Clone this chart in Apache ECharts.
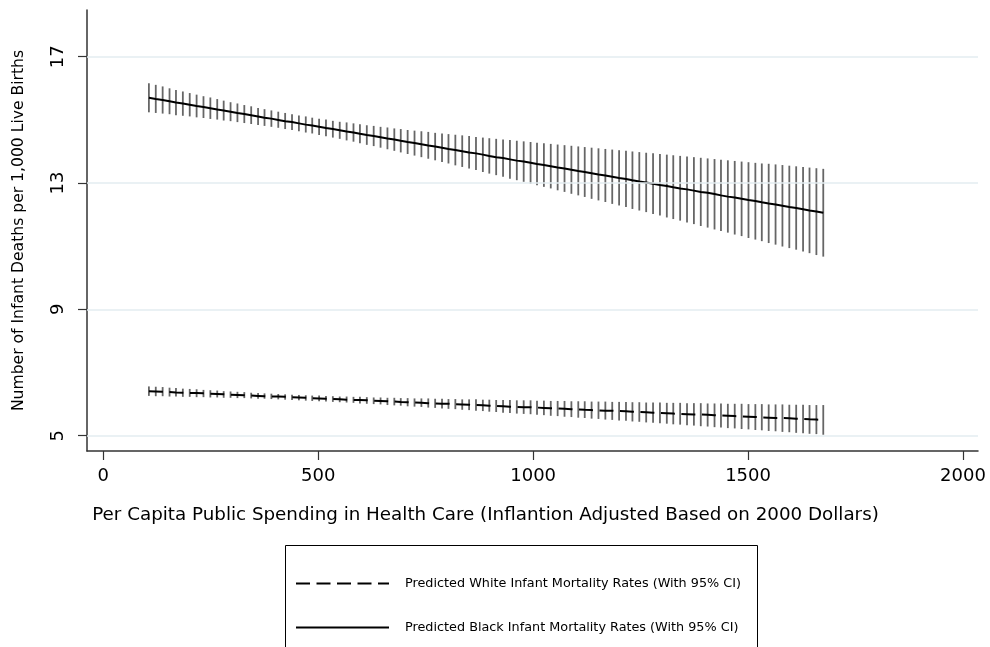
<!DOCTYPE html>
<html>
<head>
<meta charset="utf-8">
<script src="https://cdn.jsdelivr.net/npm/echarts@6/dist/echarts.min.js"></script>
<style>
  html, body { margin: 0; padding: 0; background: #fff; }
  #chart { width: 990px; height: 647px; }
</style>
</head>
<body>
<div id="chart"></div>
<script>
// Per capita public health spending (2000 dollars) at which predictions are evaluated
const spending = [
  106,122,138,154,169,185,201,217,233,249,
  265,280,296,312,328,344,360,375,391,407,
  423,439,455,471,486,502,518,534,550,566,
  582,597,613,629,645,661,677,692,708,724,
  740,756,772,788,803,819,835,851,867,883,
  898,914,930,946,962,978,994,1009,1025,1041,
  1057,1073,1089,1105,1120,1136,1152,1168,1184,1200,
  1216,1231,1247,1263,1279,1295,1311,1326,1342,1358,
  1374,1390,1406,1422,1437,1453,1469,1485,1501,1517,
  1532,1548,1564,1580,1596,1612,1628,1643,1659,1675
];

// Predicted black infant mortality and its 95% CI
const blackFit = [
  15.70,15.66,15.63,15.59,15.55,15.52,15.48,15.44,15.41,15.37,
  15.33,15.30,15.26,15.22,15.19,15.15,15.11,15.07,15.04,15.00,
  14.96,14.93,14.89,14.85,14.82,14.78,14.74,14.71,14.67,14.63,
  14.60,14.56,14.52,14.49,14.45,14.41,14.38,14.34,14.30,14.27,
  14.23,14.19,14.16,14.12,14.08,14.05,14.01,13.97,13.94,13.90,
  13.86,13.82,13.79,13.75,13.71,13.68,13.64,13.60,13.57,13.53,
  13.49,13.46,13.42,13.38,13.35,13.31,13.27,13.24,13.20,13.16,
  13.13,13.09,13.05,13.02,12.98,12.94,12.91,12.87,12.83,12.80,
  12.76,12.72,12.69,12.65,12.61,12.57,12.54,12.50,12.46,12.43,
  12.39,12.35,12.32,12.28,12.24,12.21,12.17,12.13,12.10,12.06
];
const blackLower = [
  15.24,15.22,15.20,15.18,15.15,15.13,15.11,15.08,15.06,15.03,
  15.01,14.98,14.96,14.93,14.90,14.87,14.84,14.81,14.78,14.75,
  14.71,14.68,14.64,14.60,14.57,14.52,14.48,14.44,14.40,14.35,
  14.31,14.26,14.21,14.17,14.12,14.07,14.02,13.97,13.92,13.87,
  13.82,13.77,13.72,13.67,13.62,13.56,13.51,13.46,13.41,13.35,
  13.30,13.25,13.20,13.14,13.09,13.04,12.98,12.93,12.88,12.83,
  12.77,12.72,12.66,12.61,12.56,12.50,12.45,12.40,12.34,12.29,
  12.24,12.18,12.13,12.08,12.02,11.97,11.91,11.86,11.81,11.75,
  11.70,11.64,11.59,11.53,11.48,11.43,11.37,11.32,11.26,11.21,
  11.16,11.10,11.05,10.99,10.94,10.89,10.83,10.78,10.72,10.67
];
const blackUpper = [
  16.16,16.11,16.06,16.00,15.95,15.90,15.85,15.80,15.75,15.71,
  15.66,15.61,15.56,15.52,15.47,15.43,15.38,15.34,15.30,15.26,
  15.22,15.18,15.14,15.11,15.07,15.04,15.01,14.97,14.94,14.92,
  14.89,14.86,14.83,14.81,14.78,14.76,14.73,14.71,14.68,14.66,
  14.64,14.62,14.59,14.57,14.55,14.53,14.51,14.49,14.46,14.44,
  14.42,14.40,14.38,14.36,14.34,14.32,14.30,14.28,14.26,14.24,
  14.22,14.20,14.18,14.16,14.14,14.12,14.10,14.08,14.06,14.04,
  14.02,14.00,13.98,13.96,13.94,13.92,13.90,13.88,13.86,13.84,
  13.82,13.80,13.78,13.76,13.74,13.72,13.70,13.68,13.66,13.64,
  13.62,13.61,13.59,13.57,13.55,13.53,13.51,13.49,13.47,13.45
];

// Predicted white infant mortality and its 95% CI
const whiteFit = [
  6.41,6.40,6.39,6.38,6.37,6.36,6.35,6.35,6.34,6.33,
  6.32,6.31,6.30,6.29,6.28,6.27,6.26,6.25,6.24,6.24,
  6.23,6.22,6.21,6.20,6.19,6.18,6.17,6.16,6.15,6.14,
  6.13,6.13,6.12,6.11,6.10,6.09,6.08,6.07,6.06,6.05,
  6.04,6.03,6.02,6.01,6.01,6.00,5.99,5.98,5.97,5.96,
  5.95,5.94,5.93,5.92,5.91,5.90,5.90,5.89,5.88,5.87,
  5.86,5.85,5.84,5.83,5.82,5.81,5.80,5.79,5.79,5.78,
  5.77,5.76,5.75,5.74,5.73,5.72,5.71,5.70,5.69,5.68,
  5.67,5.67,5.66,5.65,5.64,5.63,5.62,5.61,5.60,5.59,
  5.58,5.57,5.56,5.56,5.55,5.54,5.53,5.52,5.51,5.50
];
const whiteLower = [
  6.26,6.25,6.25,6.24,6.24,6.23,6.23,6.22,6.22,6.21,
  6.21,6.20,6.20,6.19,6.19,6.18,6.17,6.17,6.16,6.15,
  6.14,6.13,6.12,6.11,6.10,6.09,6.08,6.07,6.06,6.05,
  6.04,6.02,6.01,6.00,5.99,5.97,5.96,5.95,5.93,5.92,
  5.91,5.89,5.88,5.86,5.85,5.84,5.82,5.81,5.79,5.78,
  5.76,5.75,5.73,5.72,5.70,5.69,5.68,5.66,5.65,5.63,
  5.62,5.60,5.59,5.57,5.56,5.54,5.53,5.51,5.50,5.48,
  5.47,5.45,5.44,5.42,5.41,5.39,5.38,5.36,5.35,5.33,
  5.32,5.30,5.29,5.27,5.26,5.24,5.23,5.21,5.20,5.18,
  5.17,5.15,5.14,5.12,5.11,5.09,5.08,5.06,5.05,5.03
];
const whiteUpper = [
  6.56,6.55,6.54,6.52,6.51,6.49,6.48,6.47,6.45,6.44,
  6.43,6.41,6.40,6.39,6.38,6.36,6.35,6.34,6.33,6.32,
  6.31,6.30,6.29,6.28,6.27,6.27,6.26,6.25,6.24,6.24,
  6.23,6.23,6.22,6.21,6.21,6.20,6.20,6.19,6.19,6.18,
  6.18,6.18,6.17,6.17,6.16,6.16,6.15,6.15,6.15,6.14,
  6.14,6.13,6.13,6.13,6.12,6.12,6.12,6.11,6.11,6.10,
  6.10,6.10,6.09,6.09,6.09,6.08,6.08,6.08,6.07,6.07,
  6.07,6.06,6.06,6.05,6.05,6.05,6.04,6.04,6.04,6.03,
  6.03,6.03,6.02,6.02,6.02,6.01,6.01,6.01,6.00,6.00,
  6.00,5.99,5.99,5.99,5.98,5.98,5.98,5.97,5.97,5.97
];

// Axis ticks
const xTicks = [0, 500, 1000, 1500, 2000];
const yTicks = [5, 9, 13, 17];

const whiteName = 'Predicted White Infant Mortality Rates (With 95% CI)';
const blackName = 'Predicted Black Infant Mortality Rates (With 95% CI)';

const FONT = '"DejaVu Sans", Verdana, sans-serif';
const AXIS_COLOR = '#333333';
const GRID_COLOR = '#e3edf1';
const SPIKE_COLOR = '#666666';

function spikes(lower, upper) {
  return spending.map((s, i) => [s, lower[i], upper[i]]);
}
function fitLine(fit) {
  return spending.map((s, i) => [s, fit[i]]);
}
// Vertical CI spike from lower to upper bound at each spending level
function renderSpike(params, api) {
  const x = api.value(0);
  const p1 = api.coord([x, api.value(1)]);
  const p2 = api.coord([x, api.value(2)]);
  return {
    type: 'line',
    shape: { x1: p1[0], y1: p1[1], x2: p2[0], y2: p2[1] },
    style: { stroke: SPIKE_COLOR, lineWidth: 1.8 }
  };
}
const plainNumber = v => String(v);

const chart = echarts.init(document.getElementById('chart'), null, { renderer: 'canvas' });

chart.setOption({
  animation: false,
  backgroundColor: '#ffffff',
  textStyle: { fontFamily: FONT, color: '#000' },
  grid: { left: 87, right: 12, top: 10, bottom: 196, containLabel: false, outerBoundsMode: 'none' },
  xAxis: {
    type: 'value',
    min: -38,
    max: 2035,
    name: 'Per Capita Public Spending in Health Care (Inflantion Adjusted Based on 2000 Dollars)',
    nameLocation: 'middle',
    nameGap: 55,
    nameTextStyle: { fontFamily: FONT, fontSize: 18.3, color: '#000', padding: [0, 94, 0, 0] },
    axisLine: { show: true, onZero: false, lineStyle: { color: AXIS_COLOR, width: 1.5 } },
    axisTick: { show: true, length: 9, customValues: xTicks, lineStyle: { color: AXIS_COLOR, width: 1.2 } },
    axisLabel: { customValues: xTicks, formatter: plainNumber, fontFamily: FONT, fontSize: 18, color: '#000', margin: 16 },
    splitLine: { show: false }
  },
  yAxis: {
    type: 'value',
    min: 4.515,
    max: 18.48,
    name: 'Number of Infant Deaths per 1,000 Live Births',
    nameLocation: 'middle',
    nameRotate: 90,
    nameGap: 60,
    nameTextStyle: { fontFamily: FONT, fontSize: 15.6, color: '#000' },
    axisLine: { show: true, onZero: false, lineStyle: { color: AXIS_COLOR, width: 1.5 } },
    axisTick: { show: true, length: 9, customValues: yTicks, lineStyle: { color: AXIS_COLOR, width: 1.2 } },
    axisLabel: { customValues: yTicks, formatter: plainNumber, rotate: 90, fontFamily: FONT, fontSize: 18, color: '#000', margin: 20 },
    splitLine: { show: false }
  },
  legend: {
    data: [whiteName, blackName],
    orient: 'vertical',
    left: 295,
    top: 577,
    padding: 0,
    itemWidth: 93,
    itemHeight: 14,
    itemGap: 31,
    selectedMode: false,
    itemStyle: { color: 'rgba(0,0,0,0)', borderWidth: 0, opacity: 0 },
    textStyle: { fontFamily: FONT, fontSize: 12.8, color: '#000', padding: [0, 0, 0, 11] }
  },
  graphic: [
    {
      type: 'rect',
      left: 283,
      top: 543,
      silent: true,
      shape: { width: 472, height: 130 },
      style: { fill: 'none', stroke: '#000', lineWidth: 1 }
    }
  ],
  series: [
    {
      name: 'grid',
      type: 'line',
      data: [],
      silent: true,
      z: 0,
      markLine: {
        silent: true,
        symbol: 'none',
        label: { show: false },
        lineStyle: { color: GRID_COLOR, width: 1.5, type: 'solid' },
        data: yTicks.map(v => ({ yAxis: v }))
      }
    },
    {
      name: 'blackCI',
      type: 'custom',
      renderItem: renderSpike,
      encode: { x: 0, y: [1, 2] },
      data: spikes(blackLower, blackUpper),
      silent: true,
      z: 1
    },
    {
      name: 'whiteCI',
      type: 'custom',
      renderItem: renderSpike,
      encode: { x: 0, y: [1, 2] },
      data: spikes(whiteLower, whiteUpper),
      silent: true,
      z: 1
    },
    {
      name: whiteName,
      type: 'line',
      data: fitLine(whiteFit),
      symbol: 'none',
      silent: true,
      z: 3,
      itemStyle: { color: '#000' },
      lineStyle: { color: '#000', width: 2, type: [14, 6.5] }
    },
    {
      name: blackName,
      type: 'line',
      data: fitLine(blackFit),
      symbol: 'none',
      silent: true,
      z: 3,
      itemStyle: { color: '#000' },
      lineStyle: { color: '#000', width: 2, type: 'solid' }
    }
  ]
});
</script>
</body>
</html>
